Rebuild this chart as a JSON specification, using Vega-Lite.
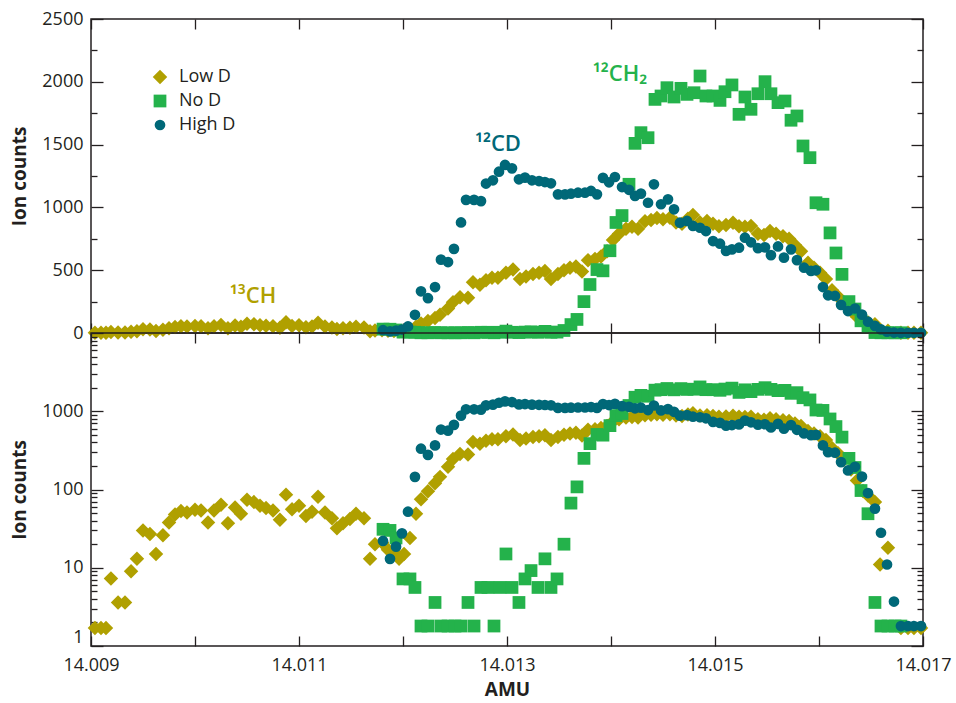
{
  "$schema": "https://vega.github.io/schema/vega-lite/v6.json",
  "padding": {"left": 10, "top": 9, "right": 20, "bottom": 5},
  "background": "white",
  "spacing": 0,
  "bounds": "flush",
  "datasets": {
    "labels": [
      {"series": "Low D", "amu": 14.010558, "count": 295, "text": "¹³CH"},
      {"series": "High D", "amu": 14.012913, "count": 1505, "text": "¹²CD"},
      {"series": "No D", "amu": 14.014087, "count": 2062, "text": "¹²CH₂"}
    ],
    "pts": [
      {"series": "Low D", "amu": 14.009038, "count": 1.7},
      {"series": "Low D", "amu": 14.009096, "count": 1.7},
      {"series": "Low D", "amu": 14.009144, "count": 1.7},
      {"series": "Low D", "amu": 14.009192, "count": 7.3},
      {"series": "Low D", "amu": 14.00926, "count": 3.6},
      {"series": "Low D", "amu": 14.009327, "count": 3.6},
      {"series": "Low D", "amu": 14.009385, "count": 9},
      {"series": "Low D", "amu": 14.009442, "count": 13},
      {"series": "Low D", "amu": 14.0095, "count": 30},
      {"series": "Low D", "amu": 14.009567, "count": 27},
      {"series": "Low D", "amu": 14.009625, "count": 15},
      {"series": "Low D", "amu": 14.009692, "count": 26},
      {"series": "Low D", "amu": 14.00975, "count": 38},
      {"series": "Low D", "amu": 14.009808, "count": 48},
      {"series": "Low D", "amu": 14.009865, "count": 53},
      {"series": "Low D", "amu": 14.009923, "count": 51},
      {"series": "Low D", "amu": 14.01, "count": 55},
      {"series": "Low D", "amu": 14.010058, "count": 54},
      {"series": "Low D", "amu": 14.010125, "count": 38},
      {"series": "Low D", "amu": 14.010183, "count": 54},
      {"series": "Low D", "amu": 14.01025, "count": 64},
      {"series": "Low D", "amu": 14.010317, "count": 37},
      {"series": "Low D", "amu": 14.010385, "count": 59},
      {"series": "Low D", "amu": 14.010442, "count": 49},
      {"series": "Low D", "amu": 14.0105, "count": 74},
      {"series": "Low D", "amu": 14.010567, "count": 69},
      {"series": "Low D", "amu": 14.010625, "count": 62},
      {"series": "Low D", "amu": 14.010683, "count": 58},
      {"series": "Low D", "amu": 14.01075, "count": 54},
      {"series": "Low D", "amu": 14.010817, "count": 41},
      {"series": "Low D", "amu": 14.010875, "count": 86},
      {"series": "Low D", "amu": 14.010933, "count": 56},
      {"series": "Low D", "amu": 14.011, "count": 62},
      {"series": "Low D", "amu": 14.011067, "count": 46},
      {"series": "Low D", "amu": 14.011125, "count": 52},
      {"series": "Low D", "amu": 14.011183, "count": 81},
      {"series": "Low D", "amu": 14.01125, "count": 51},
      {"series": "Low D", "amu": 14.011317, "count": 43},
      {"series": "Low D", "amu": 14.011365, "count": 32},
      {"series": "Low D", "amu": 14.011423, "count": 37},
      {"series": "Low D", "amu": 14.01149, "count": 42},
      {"series": "Low D", "amu": 14.011548, "count": 49},
      {"series": "Low D", "amu": 14.011625, "count": 43},
      {"series": "Low D", "amu": 14.011683, "count": 13},
      {"series": "Low D", "amu": 14.011731, "count": 20},
      {"series": "Low D", "amu": 14.011798, "count": 21},
      {"series": "Low D", "amu": 14.011856, "count": 17},
      {"series": "Low D", "amu": 14.011913, "count": 16},
      {"series": "Low D", "amu": 14.011962, "count": 13},
      {"series": "Low D", "amu": 14.01201, "count": 15},
      {"series": "Low D", "amu": 14.012067, "count": 24},
      {"series": "Low D", "amu": 14.012125, "count": 49},
      {"series": "Low D", "amu": 14.012173, "count": 75},
      {"series": "Low D", "amu": 14.01224, "count": 95},
      {"series": "Low D", "amu": 14.012308, "count": 120},
      {"series": "Low D", "amu": 14.012356, "count": 145},
      {"series": "Low D", "amu": 14.012433, "count": 195},
      {"series": "Low D", "amu": 14.012481, "count": 245},
      {"series": "Low D", "amu": 14.012548, "count": 285},
      {"series": "Low D", "amu": 14.012625, "count": 280},
      {"series": "Low D", "amu": 14.012673, "count": 405},
      {"series": "Low D", "amu": 14.01274, "count": 385},
      {"series": "Low D", "amu": 14.012798, "count": 420},
      {"series": "Low D", "amu": 14.012856, "count": 440},
      {"series": "Low D", "amu": 14.012913, "count": 440},
      {"series": "Low D", "amu": 14.01299, "count": 480},
      {"series": "Low D", "amu": 14.013058, "count": 505},
      {"series": "Low D", "amu": 14.013125, "count": 430},
      {"series": "Low D", "amu": 14.013183, "count": 450},
      {"series": "Low D", "amu": 14.01325, "count": 470},
      {"series": "Low D", "amu": 14.013308, "count": 480},
      {"series": "Low D", "amu": 14.013365, "count": 494},
      {"series": "Low D", "amu": 14.013423, "count": 430},
      {"series": "Low D", "amu": 14.01349, "count": 470},
      {"series": "Low D", "amu": 14.013548, "count": 500},
      {"series": "Low D", "amu": 14.013606, "count": 520},
      {"series": "Low D", "amu": 14.013663, "count": 530},
      {"series": "Low D", "amu": 14.013721, "count": 490},
      {"series": "Low D", "amu": 14.013779, "count": 580},
      {"series": "Low D", "amu": 14.013846, "count": 590},
      {"series": "Low D", "amu": 14.013904, "count": 610},
      {"series": "Low D", "amu": 14.013962, "count": 650},
      {"series": "Low D", "amu": 14.014019, "count": 740},
      {"series": "Low D", "amu": 14.014077, "count": 790},
      {"series": "Low D", "amu": 14.014144, "count": 830},
      {"series": "Low D", "amu": 14.014202, "count": 845},
      {"series": "Low D", "amu": 14.01426, "count": 830},
      {"series": "Low D", "amu": 14.014327, "count": 890},
      {"series": "Low D", "amu": 14.014385, "count": 900},
      {"series": "Low D", "amu": 14.014442, "count": 915},
      {"series": "Low D", "amu": 14.0145, "count": 905},
      {"series": "Low D", "amu": 14.014567, "count": 918},
      {"series": "Low D", "amu": 14.014625, "count": 880},
      {"series": "Low D", "amu": 14.014683, "count": 870},
      {"series": "Low D", "amu": 14.01474, "count": 910},
      {"series": "Low D", "amu": 14.014788, "count": 940},
      {"series": "Low D", "amu": 14.014856, "count": 880},
      {"series": "Low D", "amu": 14.014923, "count": 892},
      {"series": "Low D", "amu": 14.014981, "count": 870},
      {"series": "Low D", "amu": 14.015038, "count": 850},
      {"series": "Low D", "amu": 14.015106, "count": 860},
      {"series": "Low D", "amu": 14.015173, "count": 878},
      {"series": "Low D", "amu": 14.015231, "count": 850},
      {"series": "Low D", "amu": 14.015288, "count": 845},
      {"series": "Low D", "amu": 14.015346, "count": 852},
      {"series": "Low D", "amu": 14.015413, "count": 790},
      {"series": "Low D", "amu": 14.015471, "count": 780},
      {"series": "Low D", "amu": 14.015529, "count": 812},
      {"series": "Low D", "amu": 14.015587, "count": 790},
      {"series": "Low D", "amu": 14.015654, "count": 770},
      {"series": "Low D", "amu": 14.015712, "count": 750},
      {"series": "Low D", "amu": 14.015769, "count": 700},
      {"series": "Low D", "amu": 14.015827, "count": 650},
      {"series": "Low D", "amu": 14.015894, "count": 560},
      {"series": "Low D", "amu": 14.015952, "count": 520},
      {"series": "Low D", "amu": 14.01601, "count": 480},
      {"series": "Low D", "amu": 14.016067, "count": 430},
      {"series": "Low D", "amu": 14.016125, "count": 340},
      {"series": "Low D", "amu": 14.016183, "count": 290},
      {"series": "Low D", "amu": 14.01624, "count": 240},
      {"series": "Low D", "amu": 14.016308, "count": 180},
      {"series": "Low D", "amu": 14.016365, "count": 130},
      {"series": "Low D", "amu": 14.016423, "count": 96},
      {"series": "Low D", "amu": 14.016471, "count": 84},
      {"series": "Low D", "amu": 14.016538, "count": 69},
      {"series": "Low D", "amu": 14.016587, "count": 11},
      {"series": "Low D", "amu": 14.016663, "count": 18},
      {"series": "Low D", "amu": 14.016788, "count": 1.7},
      {"series": "Low D", "amu": 14.016856, "count": 1.7},
      {"series": "Low D", "amu": 14.016913, "count": 1.7},
      {"series": "Low D", "amu": 14.016981, "count": 1.7},
      {"series": "No D", "amu": 14.011808, "count": 31},
      {"series": "No D", "amu": 14.011875, "count": 30},
      {"series": "No D", "amu": 14.011933, "count": 24},
      {"series": "No D", "amu": 14.012, "count": 7.2},
      {"series": "No D", "amu": 14.012067, "count": 7.2},
      {"series": "No D", "amu": 14.012115, "count": 5.6},
      {"series": "No D", "amu": 14.012173, "count": 1.8},
      {"series": "No D", "amu": 14.01224, "count": 1.8},
      {"series": "No D", "amu": 14.012308, "count": 3.6},
      {"series": "No D", "amu": 14.012365, "count": 1.8},
      {"series": "No D", "amu": 14.012433, "count": 1.8},
      {"series": "No D", "amu": 14.0125, "count": 1.8},
      {"series": "No D", "amu": 14.012558, "count": 1.8},
      {"series": "No D", "amu": 14.012625, "count": 3.6},
      {"series": "No D", "amu": 14.012683, "count": 1.8},
      {"series": "No D", "amu": 14.01275, "count": 5.6},
      {"series": "No D", "amu": 14.012817, "count": 5.6},
      {"series": "No D", "amu": 14.012875, "count": 1.8},
      {"series": "No D", "amu": 14.012933, "count": 5.6},
      {"series": "No D", "amu": 14.01299, "count": 15},
      {"series": "No D", "amu": 14.013048, "count": 5.6},
      {"series": "No D", "amu": 14.013115, "count": 3.6},
      {"series": "No D", "amu": 14.013173, "count": 7.2},
      {"series": "No D", "amu": 14.013231, "count": 9.2},
      {"series": "No D", "amu": 14.013298, "count": 5.6},
      {"series": "No D", "amu": 14.013365, "count": 13},
      {"series": "No D", "amu": 14.013423, "count": 5.6},
      {"series": "No D", "amu": 14.013481, "count": 7.2},
      {"series": "No D", "amu": 14.013548, "count": 20},
      {"series": "No D", "amu": 14.013615, "count": 67},
      {"series": "No D", "amu": 14.013673, "count": 108},
      {"series": "No D", "amu": 14.01374, "count": 250},
      {"series": "No D", "amu": 14.013798, "count": 386},
      {"series": "No D", "amu": 14.013865, "count": 505},
      {"series": "No D", "amu": 14.013923, "count": 495},
      {"series": "No D", "amu": 14.01399, "count": 655},
      {"series": "No D", "amu": 14.014048, "count": 880},
      {"series": "No D", "amu": 14.014106, "count": 935},
      {"series": "No D", "amu": 14.014173, "count": 1184},
      {"series": "No D", "amu": 14.014231, "count": 1510},
      {"series": "No D", "amu": 14.014288, "count": 1595},
      {"series": "No D", "amu": 14.014356, "count": 1555},
      {"series": "No D", "amu": 14.014423, "count": 1860},
      {"series": "No D", "amu": 14.014481, "count": 1887},
      {"series": "No D", "amu": 14.014538, "count": 1953},
      {"series": "No D", "amu": 14.014606, "count": 1879},
      {"series": "No D", "amu": 14.014673, "count": 1948},
      {"series": "No D", "amu": 14.014731, "count": 1900},
      {"series": "No D", "amu": 14.014798, "count": 1913},
      {"series": "No D", "amu": 14.014856, "count": 2046},
      {"series": "No D", "amu": 14.014913, "count": 1887},
      {"series": "No D", "amu": 14.014981, "count": 1887},
      {"series": "No D", "amu": 14.015048, "count": 1852},
      {"series": "No D", "amu": 14.015096, "count": 1921},
      {"series": "No D", "amu": 14.015163, "count": 1975},
      {"series": "No D", "amu": 14.015231, "count": 1741},
      {"series": "No D", "amu": 14.015288, "count": 1879},
      {"series": "No D", "amu": 14.015346, "count": 1781},
      {"series": "No D", "amu": 14.015413, "count": 1905},
      {"series": "No D", "amu": 14.015481, "count": 2001},
      {"series": "No D", "amu": 14.015538, "count": 1905},
      {"series": "No D", "amu": 14.015606, "count": 1834},
      {"series": "No D", "amu": 14.015673, "count": 1847},
      {"series": "No D", "amu": 14.015731, "count": 1694},
      {"series": "No D", "amu": 14.015788, "count": 1728},
      {"series": "No D", "amu": 14.015846, "count": 1489},
      {"series": "No D", "amu": 14.015913, "count": 1396},
      {"series": "No D", "amu": 14.015971, "count": 1037},
      {"series": "No D", "amu": 14.016038, "count": 1025},
      {"series": "No D", "amu": 14.016106, "count": 797},
      {"series": "No D", "amu": 14.016163, "count": 637},
      {"series": "No D", "amu": 14.016221, "count": 467},
      {"series": "No D", "amu": 14.016288, "count": 250},
      {"series": "No D", "amu": 14.016346, "count": 191},
      {"series": "No D", "amu": 14.016404, "count": 97},
      {"series": "No D", "amu": 14.016471, "count": 49},
      {"series": "No D", "amu": 14.016538, "count": 3.6},
      {"series": "No D", "amu": 14.016596, "count": 1.8},
      {"series": "No D", "amu": 14.016663, "count": 1.8},
      {"series": "No D", "amu": 14.016731, "count": 1.8},
      {"series": "No D", "amu": 14.016788, "count": 1.8},
      {"series": "High D", "amu": 14.011808, "count": 22},
      {"series": "High D", "amu": 14.011875, "count": 13},
      {"series": "High D", "amu": 14.011933, "count": 18.6},
      {"series": "High D", "amu": 14.01199, "count": 27.5},
      {"series": "High D", "amu": 14.012048, "count": 52},
      {"series": "High D", "amu": 14.012115, "count": 145},
      {"series": "High D", "amu": 14.012173, "count": 332},
      {"series": "High D", "amu": 14.01224, "count": 277},
      {"series": "High D", "amu": 14.012308, "count": 366},
      {"series": "High D", "amu": 14.012365, "count": 584},
      {"series": "High D", "amu": 14.012433, "count": 565},
      {"series": "High D", "amu": 14.01249, "count": 670},
      {"series": "High D", "amu": 14.012558, "count": 880},
      {"series": "High D", "amu": 14.012606, "count": 1060},
      {"series": "High D", "amu": 14.012683, "count": 1060},
      {"series": "High D", "amu": 14.01275, "count": 1050},
      {"series": "High D", "amu": 14.012798, "count": 1190},
      {"series": "High D", "amu": 14.012865, "count": 1216},
      {"series": "High D", "amu": 14.012923, "count": 1284},
      {"series": "High D", "amu": 14.012981, "count": 1338},
      {"series": "High D", "amu": 14.013048, "count": 1311},
      {"series": "High D", "amu": 14.013115, "count": 1224},
      {"series": "High D", "amu": 14.013173, "count": 1237},
      {"series": "High D", "amu": 14.01324, "count": 1216},
      {"series": "High D", "amu": 14.013308, "count": 1210},
      {"series": "High D", "amu": 14.013365, "count": 1202},
      {"series": "High D", "amu": 14.013423, "count": 1192},
      {"series": "High D", "amu": 14.01349, "count": 1104},
      {"series": "High D", "amu": 14.013558, "count": 1104},
      {"series": "High D", "amu": 14.013615, "count": 1109},
      {"series": "High D", "amu": 14.013683, "count": 1117},
      {"series": "High D", "amu": 14.01375, "count": 1117},
      {"series": "High D", "amu": 14.013808, "count": 1131},
      {"series": "High D", "amu": 14.013865, "count": 1104},
      {"series": "High D", "amu": 14.013923, "count": 1235},
      {"series": "High D", "amu": 14.013981, "count": 1200},
      {"series": "High D", "amu": 14.014038, "count": 1242},
      {"series": "High D", "amu": 14.014106, "count": 1162},
      {"series": "High D", "amu": 14.014173, "count": 1140},
      {"series": "High D", "amu": 14.014231, "count": 1091},
      {"series": "High D", "amu": 14.014288, "count": 1110},
      {"series": "High D", "amu": 14.014356, "count": 1037},
      {"series": "High D", "amu": 14.014413, "count": 1184},
      {"series": "High D", "amu": 14.014481, "count": 1025},
      {"series": "High D", "amu": 14.014548, "count": 1064},
      {"series": "High D", "amu": 14.014606, "count": 985},
      {"series": "High D", "amu": 14.014663, "count": 878},
      {"series": "High D", "amu": 14.014731, "count": 892},
      {"series": "High D", "amu": 14.014788, "count": 852},
      {"series": "High D", "amu": 14.014856, "count": 838},
      {"series": "High D", "amu": 14.014913, "count": 812},
      {"series": "High D", "amu": 14.014981, "count": 732},
      {"series": "High D", "amu": 14.015048, "count": 711},
      {"series": "High D", "amu": 14.015106, "count": 653},
      {"series": "High D", "amu": 14.015163, "count": 666},
      {"series": "High D", "amu": 14.015231, "count": 679},
      {"series": "High D", "amu": 14.015288, "count": 759},
      {"series": "High D", "amu": 14.015346, "count": 722},
      {"series": "High D", "amu": 14.015413, "count": 675},
      {"series": "High D", "amu": 14.015481, "count": 682},
      {"series": "High D", "amu": 14.015538, "count": 620},
      {"series": "High D", "amu": 14.015606, "count": 689},
      {"series": "High D", "amu": 14.015663, "count": 600},
      {"series": "High D", "amu": 14.015731, "count": 666},
      {"series": "High D", "amu": 14.015788, "count": 580},
      {"series": "High D", "amu": 14.015856, "count": 520},
      {"series": "High D", "amu": 14.015923, "count": 494},
      {"series": "High D", "amu": 14.015971, "count": 499},
      {"series": "High D", "amu": 14.016038, "count": 366},
      {"series": "High D", "amu": 14.016087, "count": 300},
      {"series": "High D", "amu": 14.016154, "count": 295},
      {"series": "High D", "amu": 14.016212, "count": 224},
      {"series": "High D", "amu": 14.016279, "count": 175},
      {"series": "High D", "amu": 14.016346, "count": 195},
      {"series": "High D", "amu": 14.016413, "count": 146},
      {"series": "High D", "amu": 14.016471, "count": 90},
      {"series": "High D", "amu": 14.016538, "count": 57},
      {"series": "High D", "amu": 14.016596, "count": 28},
      {"series": "High D", "amu": 14.016654, "count": 11},
      {"series": "High D", "amu": 14.016721, "count": 3.7},
      {"series": "High D", "amu": 14.016788, "count": 1.8},
      {"series": "High D", "amu": 14.016856, "count": 1.8},
      {"series": "High D", "amu": 14.016913, "count": 1.8},
      {"series": "High D", "amu": 14.016981, "count": 1.8}
    ]
  },
  "vconcat": [
    {
      "width": 832,
      "height": 314,
      "layer": [
        {
          "data": {"name": "pts"},
          "mark": {"type": "point", "filled": true, "opacity": 1, "strokeWidth": 0},
          "encoding": {
            "x": {"field": "amu", "type": "quantitative",
              "scale": {"domain": [14.009, 14.017], "nice": false, "zero": false},
              "axis": {"orient": "bottom", "values": [14.009, 14.01, 14.011, 14.012, 14.013, 14.014, 14.015, 14.016, 14.017], "labels": false, "tickSize": -10, "title": null}},
            "y": {"field": "count", "type": "quantitative",
              "scale": {"domain": [0, 2500], "nice": false, "zero": false},
              "axis": {"orient": "left", "values": [0, 500, 1000, 1500, 2000, 2500], "format": "d", "tickSize": -12, "labelPadding": 20, "title": "Ion counts", "titlePadding": 12}},
            "color": {"field": "series", "type": "nominal",
              "scale": {"domain": ["Low D", "No D", "High D"], "range": ["#B0A000", "#24B24B", "#006878"]},
              "legend": {"title": null, "orient": "none", "legendX": 60, "legendY": 49, "labelFontSize": 18, "labelFont": "Open Sans", "labelColor": "#231f20", "rowPadding": 6, "padding": 0, "labelOffset": 10, "symbolStrokeWidth": 0}},
            "shape": {"field": "series", "type": "nominal",
              "scale": {"domain": ["Low D", "No D", "High D"], "range": ["diamond", "square", "circle"]}},
            "size": {"field": "series", "type": "nominal",
              "scale": {"domain": ["Low D", "No D", "High D"], "range": [210, 115, 110]}}
          }
        },
        {
          "data": {"name": "labels"},
          "mark": {"type": "text", "fontSize": 22, "fontWeight": 600, "font": "Open Sans", "align": "center", "baseline": "middle"},
          "encoding": {
            "x": {"field": "amu", "type": "quantitative", "scale": {"domain": [14.009, 14.017], "nice": false, "zero": false}, "axis": null},
            "y": {"field": "count", "type": "quantitative", "scale": {"domain": [0, 2500], "nice": false, "zero": false}, "axis": null},
            "text": {"field": "text"},
            "color": {"field": "series", "type": "nominal", "legend": null}
          }
        },
        {
          "data": {"name": "labels"},
          "mark": {"type": "point", "opacity": 0},
          "encoding": {
            "x": {"field": "amu", "type": "quantitative", "scale": {"domain": [14.009, 14.017], "nice": false, "zero": false},
              "axis": {"orient": "top", "values": [14.009, 14.01, 14.011, 14.012, 14.013, 14.014, 14.015, 14.016, 14.017], "labels": false, "tickSize": -10, "title": null}},
            "y": {"field": "count", "type": "quantitative", "scale": {"domain": [0, 2500], "nice": false, "zero": false},
              "axis": {"orient": "right", "values": [0, 500, 1000, 1500, 2000, 2500], "labels": false, "tickSize": -12, "title": null}}
          }
        },
        {
          "data": {"name": "labels"},
          "mark": {"type": "point", "opacity": 0},
          "encoding": {
            "x": {"field": "amu", "type": "quantitative", "scale": {"domain": [14.009, 14.017], "nice": false, "zero": false}, "axis": null},
            "y": {"field": "count", "type": "quantitative", "scale": {"domain": [0, 2500], "nice": false, "zero": false},
              "axis": {"orient": "left", "values": [250, 750, 1250, 1750, 2250], "labels": false, "tickSize": -6, "title": null}}
          }
        },
        {
          "data": {"name": "labels"},
          "mark": {"type": "point", "opacity": 0},
          "encoding": {
            "x": {"field": "amu", "type": "quantitative", "scale": {"domain": [14.009, 14.017], "nice": false, "zero": false}, "axis": null},
            "y": {"field": "count", "type": "quantitative", "scale": {"domain": [0, 2500], "nice": false, "zero": false},
              "axis": {"orient": "right", "values": [250, 750, 1250, 1750, 2250], "labels": false, "tickSize": -6, "title": null}}
          }
        }
      ],
      "resolve": {"axis": {"x": "independent", "y": "independent"}}
    },
    {
      "width": 832,
      "height": 313,
      "layer": [
        {
          "data": {"name": "pts"},
          "mark": {"type": "point", "filled": true, "opacity": 1, "strokeWidth": 0},
          "encoding": {
            "x": {"field": "amu", "type": "quantitative",
              "scale": {"domain": [14.009, 14.017], "nice": false, "zero": false},
              "axis": {"orient": "bottom", "values": [14.009, 14.01, 14.011, 14.012, 14.013, 14.014, 14.015, 14.016, 14.017], "labelExpr": "round(datum.value*1000) % 2 == 1 ? format(datum.value, '.3f') : ''", "tickSize": -10, "labelPadding": 20, "title": "AMU", "titlePadding": 6}},
            "y": {"field": "count", "type": "quantitative",
              "scale": {"type": "log", "domain": [1, 10000], "nice": false},
              "axis": {"orient": "left", "values": [1, 10, 100, 1000, 10000], "labelExpr": "datum.value >= 10000 ? '' : format(datum.value, 'd')", "labelFlush": true, "tickSize": -12, "labelPadding": 20, "title": "Ion counts", "titlePadding": 12}},
            "color": {"field": "series", "type": "nominal",
              "scale": {"domain": ["Low D", "No D", "High D"], "range": ["#B0A000", "#24B24B", "#006878"]}, "legend": null},
            "shape": {"field": "series", "type": "nominal",
              "scale": {"domain": ["Low D", "No D", "High D"], "range": ["diamond", "square", "circle"]}, "legend": null},
            "size": {"field": "series", "type": "nominal",
              "scale": {"domain": ["Low D", "No D", "High D"], "range": [210, 115, 110]}, "legend": null}
          }
        },
        {
          "data": {"name": "labels"},
          "mark": {"type": "point", "opacity": 0},
          "encoding": {
            "x": {"field": "amu", "type": "quantitative", "scale": {"domain": [14.009, 14.017], "nice": false, "zero": false},
              "axis": {"orient": "top", "values": [14.009, 14.01, 14.011, 14.012, 14.013, 14.014, 14.015, 14.016, 14.017], "labels": false, "tickSize": -10, "title": null}},
            "y": {"field": "count", "type": "quantitative", "scale": {"type": "log", "domain": [1, 10000], "nice": false},
              "axis": {"orient": "right", "values": [1, 10, 100, 1000, 10000], "labels": false, "tickSize": -12, "title": null}}
          }
        },
        {
          "data": {"name": "labels"},
          "mark": {"type": "point", "opacity": 0},
          "encoding": {
            "x": {"field": "amu", "type": "quantitative", "scale": {"domain": [14.009, 14.017], "nice": false, "zero": false}, "axis": null},
            "y": {"field": "count", "type": "quantitative", "scale": {"type": "log", "domain": [1, 10000], "nice": false},
              "axis": {"orient": "left", "values": [2, 3, 4, 5, 6, 7, 8, 9, 20, 30, 40, 50, 60, 70, 80, 90, 200, 300, 400, 500, 600, 700, 800, 900, 2000, 3000, 4000, 5000, 6000, 7000, 8000, 9000], "labels": false, "tickSize": -6, "title": null}}
          }
        },
        {
          "data": {"name": "labels"},
          "mark": {"type": "point", "opacity": 0},
          "encoding": {
            "x": {"field": "amu", "type": "quantitative", "scale": {"domain": [14.009, 14.017], "nice": false, "zero": false}, "axis": null},
            "y": {"field": "count", "type": "quantitative", "scale": {"type": "log", "domain": [1, 10000], "nice": false},
              "axis": {"orient": "right", "values": [2, 3, 4, 5, 6, 7, 8, 9, 20, 30, 40, 50, 60, 70, 80, 90, 200, 300, 400, 500, 600, 700, 800, 900, 2000, 3000, 4000, 5000, 6000, 7000, 8000, 9000], "labels": false, "tickSize": -6, "title": null}}
          }
        }
      ],
      "resolve": {"axis": {"x": "independent", "y": "independent"}}
    }
  ],
  "config": {
    "font": "Open Sans",
    "view": {"stroke": "#231f20", "strokeWidth": 1.5},
    "axis": {
      "domain": false, "grid": false, "tickColor": "#231f20", "tickWidth": 1.3,
      "labelFont": "Open Sans", "labelFontSize": 18, "labelColor": "#231f20", "labelFlush": false,
      "titleFont": "Open Sans", "titleFontSize": 19, "titleFontWeight": "bold", "titleColor": "#231f20"
    }
  }
}
